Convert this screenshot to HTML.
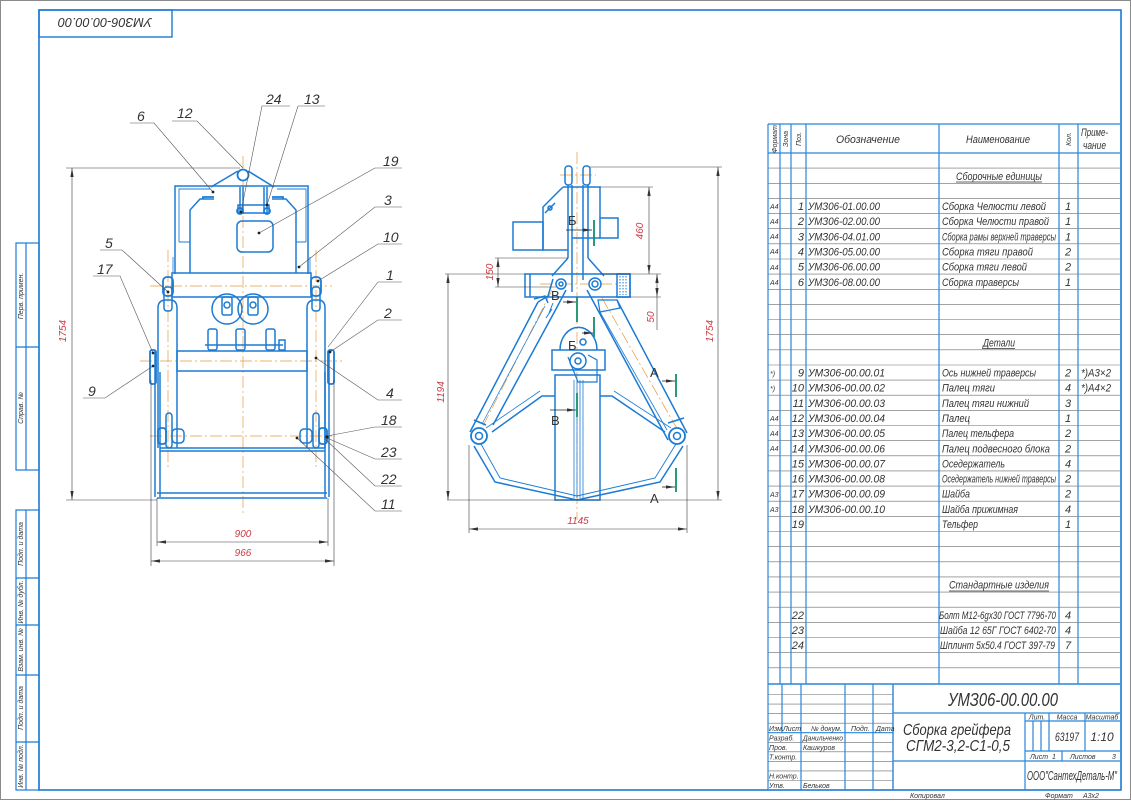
<!DOCTYPE html>
<html><head><meta charset="utf-8"><style>
html,body{margin:0;padding:0;background:#fff;overflow:hidden}
svg text{font-family:"Liberation Sans Narrow","Liberation Sans","DejaVu Sans",sans-serif;font-style:italic;fill:#333}
.r{fill:#cc3a44}
.s{font-size:7px}
.m{font-size:11px}
.n{font-size:14px}
.d{font-size:10px}
</style></head><body>
<svg width="1131" height="800" viewBox="0 0 1131 800" xmlns="http://www.w3.org/2000/svg">
<defs>
<marker id="ar" viewBox="0 0 10 10" refX="10" refY="5" markerWidth="9" markerHeight="9" markerUnits="userSpaceOnUse" orient="auto-start-reverse"><path d="M0,3.2 L10,5 L0,6.8z" fill="#333"/></marker>
</defs>
<rect x="0" y="0" width="1131" height="800" fill="#fff"/>
<rect x="0.5" y="0.5" width="1130" height="799" fill="none" stroke="#8a8a8a" stroke-width="1"/>
<rect x="39" y="10" width="1082" height="780" fill="none" stroke="#1b7bd4" stroke-width="1.6"/>
<rect x="39" y="10" width="133" height="27" fill="none" stroke="#1b7bd4" stroke-width="1.4"/>
<text transform="translate(105,18) rotate(180)" text-anchor="middle" font-size="13" textLength="94" lengthAdjust="spacingAndGlyphs">УМЗ06-00.00.00</text>

<g fill="none" stroke="#1b7bd4" stroke-width="1.2">
<rect x="16" y="243" width="23" height="227"/>
<path d="M26,243 V470 M16,347 H39"/>
<rect x="16" y="510" width="23" height="280"/>
<path d="M26,510 V790 M16,578 H39 M16,625 H39 M16,675 H39 M16,742 H39"/>
</g>
<g class="s">
<text transform="translate(23,296) rotate(-90)" text-anchor="middle">Перв. примен.</text>
<text transform="translate(23,408) rotate(-90)" text-anchor="middle">Справ. №</text>
<text transform="translate(23,544) rotate(-90)" text-anchor="middle">Подп. и дата</text>
<text transform="translate(23,602) rotate(-90)" text-anchor="middle">Инв. № дубл.</text>
<text transform="translate(23,650) rotate(-90)" text-anchor="middle">Взам. инв. №</text>
<text transform="translate(23,708) rotate(-90)" text-anchor="middle">Подп. и дата</text>
<text transform="translate(23,766) rotate(-90)" text-anchor="middle">Инв. № подл.</text>
</g>

<!-- LEFT VIEW -->
<g fill="none" stroke="#e59a3a" stroke-width="0.7" stroke-dasharray="12 3 2 3">
<path d="M243,156 V514"/>
<path d="M168,250 V470 M316,250 V470"/>
<path d="M150,286 H332 M140,361 H342 M150,436 H332"/>
</g>
<g fill="none" stroke="#1b7bd4" stroke-width="1.5">
<path d="M211,187 L238,171 M248,171 L274,187"/>
<circle cx="243" cy="175" r="5.5" stroke-width="1.8" fill="#fff"/>
<path d="M175,274 V186 H308 V274"/>
<path d="M179,242 V189 H210 M277,189 H306 V242" stroke-width="0.9"/>
<path d="M179,242 H190 M296,242 H306" stroke-width="0.9"/>
<path d="M190,273 V210 L200,199 H214 M272,199 H286 L296,210 V273"/>
<path d="M203,199 V197 H214 M272,197 H283 V199" stroke-width="1.8"/>
<path d="M173,257 V273 M310,257 V273" stroke-width="0.8"/>
<path d="M240,187 V214 M243,187 V214 M264,187 V214 M267,187 V214"/>
<rect x="238" y="205" width="31" height="8"/>
<circle cx="240" cy="211" r="3" stroke-width="1.8"/><circle cx="267" cy="211" r="3" stroke-width="1.8"/>
<rect x="237" y="221" width="36" height="31" rx="5"/>
<rect x="172" y="273" width="139" height="24"/>
<rect x="163" y="277" width="10" height="19" rx="4" stroke-width="1.8"/>
<rect x="311" y="277" width="10" height="19" rx="4" stroke-width="1.8"/>
<path d="M158,448 V308 Q158,300 166,300 H170 Q177,300 177,308 V448"/>
<path d="M307,448 V308 Q307,300 315,300 H318 Q325,300 325,308 V448"/>
<rect x="164" y="287" width="8" height="24" rx="3"/>
<rect x="312" y="287" width="8" height="24" rx="3"/>
<circle cx="227" cy="309" r="15"/><circle cx="253" cy="309" r="15"/>
<rect x="222" y="297" width="10" height="18" rx="2"/>
<rect x="248" y="297" width="10" height="18" rx="2"/>
<circle cx="227" cy="305" r="3"/><circle cx="253" cy="305" r="3"/>
<path d="M205,345 H283"/>
<rect x="208" y="329" width="9" height="21" rx="2"/>
<rect x="236" y="329" width="9" height="21" rx="2"/>
<rect x="266" y="329" width="9" height="21" rx="2"/>
<rect x="279" y="340" width="6" height="10"/>
<rect x="177" y="351" width="130" height="20"/>
<path d="M155,350 V497 M160,372 V497 M329,350 V497 M325,372 V497"/>
<path d="M160,448 H325 M160,451 H325" />
<path d="M157,493 H327 M157,498 H327"/>
<rect x="150" y="350" width="6" height="34" rx="2" stroke-width="1.8"/>
<rect x="328" y="350" width="6" height="34" rx="2" stroke-width="1.8"/>
<rect x="158" y="428" width="8" height="16" rx="3" stroke-width="1.8"/>
<rect x="166" y="413" width="6" height="35" rx="3"/>
<rect x="172" y="429" width="12" height="14" rx="4"/>
<rect x="300" y="429" width="12" height="14" rx="4"/>
<rect x="313" y="413" width="6" height="35" rx="3"/>
<rect x="319" y="428" width="8" height="16" rx="3" stroke-width="1.8"/>
</g>
<g fill="none" stroke="#3a3a3a" stroke-width="0.6">
<path d="M66,168 H240 M66,500 H157"/>
<path d="M72,168 V500" marker-start="url(#ar)" marker-end="url(#ar)"/>
<path d="M157,498 V546 M328,498 V546 M151,380 V566 M334,380 V566"/>
<path d="M157,542 H328" marker-start="url(#ar)" marker-end="url(#ar)"/>
<path d="M151,561 H334" marker-start="url(#ar)" marker-end="url(#ar)"/>
</g>
<text class="r d" transform="translate(66,331) rotate(-90)" text-anchor="middle">1754</text>
<text class="r d" x="243" y="537" text-anchor="middle">900</text>
<text class="r d" x="243" y="556" text-anchor="middle">966</text>
<g fill="none" stroke="#555" stroke-width="0.6">
<path d="M130,123 H154 L213,192"/>
<path d="M172,121 H197 L243,168"/>
<path d="M290,106 H262 L241,212"/>
<path d="M325,106 H298 L267,205"/>
<path d="M402,168 H375 L259,233"/>
<path d="M402,207 H375 L299,267"/>
<path d="M402,244 H378 L318,281"/>
<path d="M402,282 H378 L328,347"/>
<path d="M402,320 H378 L330,352"/>
<path d="M402,400 H378 L316,358"/>
<path d="M402,427 H375 L327,436"/>
<path d="M402,459 H375 L327,438"/>
<path d="M402,486 H375 L325,439"/>
<path d="M402,511 H375 L297,438"/>
<path d="M100,250 H122 L168,292"/>
<path d="M93,276 H120 L153,353"/>
<path d="M83,398 H105 L153,366"/>
</g>
<g fill="#222">
<circle cx="213" cy="192" r="1.4"/><circle cx="259" cy="233" r="1.4"/><circle cx="299" cy="267" r="1.4"/>
<circle cx="318" cy="281" r="1.4"/><circle cx="330" cy="352" r="1.4"/><circle cx="316" cy="358" r="1.4"/>
<circle cx="297" cy="438" r="1.4"/><circle cx="168" cy="292" r="1.4"/><circle cx="153" cy="353" r="1.4"/>
<circle cx="153" cy="366" r="1.4"/><circle cx="241" cy="212" r="1.4"/><circle cx="267" cy="205" r="1.4"/>
<circle cx="327" cy="437" r="1.6"/>
</g>
<g class="n">
<text x="137" y="121">6</text>
<text x="177" y="118">12</text>
<text x="266" y="104">24</text>
<text x="304" y="104">13</text>
<text x="383" y="166">19</text>
<text x="384" y="205">3</text>
<text x="383" y="242">10</text>
<text x="386" y="280">1</text>
<text x="384" y="318">2</text>
<text x="386" y="398">4</text>
<text x="381" y="425">18</text>
<text x="381" y="457">23</text>
<text x="381" y="484">22</text>
<text x="381" y="509">11</text>
<text x="105" y="248">5</text>
<text x="97" y="274">17</text>
<text x="88" y="396">9</text>
</g>

<!-- MIDDLE VIEW -->
<g fill="none" stroke="#e59a3a" stroke-width="0.7" stroke-dasharray="12 3 2 3">
<path d="M577,152 V520"/>
<path d="M560,175 H596"/>
<path d="M552,290 L481,430 M602,298 L679,432"/>
<path d="M540,284 H620"/>
</g>
<g fill="none" stroke="#1b7bd4" stroke-width="1.5">
<rect x="565" y="166" width="7" height="19" rx="3"/>
<rect x="583" y="166" width="7" height="19" rx="3"/>
<path d="M568,185 V258 M572,185 V292 M583,185 V280 M588,185 V258"/>
<path d="M563,187 H600 V218 M563,187 L543,207 V250 H568"/>
<path d="M545,213 L555,203"/><circle cx="550" cy="208" r="2"/>
<rect x="513" y="222" width="30" height="28"/>
<rect x="600" y="218" width="18" height="20"/>
<path d="M572,238 H600"/>
<rect x="525" y="274" width="105" height="23"/>
<path d="M530,274 V297"/>
<rect x="617" y="274" width="13" height="23"/>
<path d="M620,276 V295 M623,276 V295 M626,276 V295" stroke-width="1" stroke-dasharray="1.5 1.5"/>
<path d="M568,258 L552,276 M588,258 L604,276"/>
<circle cx="561" cy="284" r="5" fill="#fff"/><circle cx="561" cy="284" r="2"/>
<circle cx="595" cy="284" r="6" fill="#fff"/><circle cx="595" cy="284" r="3"/>
<path d="M538,302 L470,432 M556,309 L493,425"/>
<path d="M545,306 L482,424" stroke-width="0.7"/>
<path d="M538,302 L548,296 L553,279 M556,309 L566,290"/>
<path d="M534,299 L545,296 L548,303 M474,420 L486,425"/>
<path d="M587,290 L668,440 M617,300 L687,433"/>
<path d="M600,312 L667,430" stroke-width="0.8"/>
<path d="M598,300 L617,300 L620,308 L600,312 Z" stroke-width="1.2"/>
<path d="M668,423 L684,418"/>
<path d="M474,446 L495,482 L577,500 L660,482 L683,446"/>
<path d="M481,444 L500,478 L577,496 L655,478 L676,444" stroke-width="0.9"/>
<path d="M492,432 L542,396 H555 M600,396 H612 L665,432"/>
<path d="M486,428 L540,391 M671,428 L614,391" stroke-width="0.8"/>
<rect x="555" y="375" width="45" height="125"/>
<path d="M574,380 V498 M577,380 V498 M580,380 V498 M583,380 V498" stroke-width="0.8"/>
<rect x="552" y="350" width="53" height="20"/>
<path d="M560,350 A18,22 0 0 1 597,350"/>
<path d="M568,357 L578,382 H597 V360 L588,355" stroke-width="1.2"/>
<circle cx="578" cy="361" r="8" fill="#fff"/><circle cx="578" cy="361" r="3"/>
<circle cx="583" cy="342" r="3"/>
<circle cx="479" cy="436" r="8" fill="#fff" stroke-width="1.8"/><circle cx="479" cy="436" r="3.5"/>
<circle cx="677" cy="436" r="8" fill="#fff" stroke-width="1.8"/><circle cx="677" cy="436" r="3.5"/>
<path d="M549,313 L553,303 M546,318 L552,309" stroke-width="1"/>
</g>
<g fill="none" stroke="#13906a" stroke-width="1.8">
<path d="M594,220 V246 M577,297 V322 M594,317 V337 M577,393 V417 M676,374 V397 M676,468 V492"/>
</g>
<g fill="none" stroke="#222" stroke-width="0.8">
<path d="M566,230 H592" marker-end="url(#ar)"/>
<path d="M563,302 H576" marker-end="url(#ar)"/>
<path d="M582,333 H593" marker-end="url(#ar)"/>
<path d="M550,410 H576" marker-end="url(#ar)"/>
<path d="M662,381 H675" marker-end="url(#ar)"/>
<path d="M662,487 H675" marker-end="url(#ar)"/>
</g>
<g font-size="13">
<text x="568" y="225" style="font-style:normal">Б</text>
<text x="551" y="300" style="font-style:normal">В</text>
<text x="568" y="350" style="font-style:normal">Б</text>
<text x="551" y="425" style="font-style:normal">В</text>
<text x="650" y="377" style="font-style:normal">А</text>
<text x="650" y="503" style="font-style:normal">А</text>
</g>
<g fill="none" stroke="#3a3a3a" stroke-width="0.6">
<path d="M590,167 H722 M447,500 H722"/>
<path d="M718,167 V500" marker-start="url(#ar)" marker-end="url(#ar)"/>
<path d="M445,274 H525"/>
<path d="M448,274 V500" marker-start="url(#ar)" marker-end="url(#ar)"/>
<path d="M600,187 H653 M600,274 H661"/>
<path d="M649,187 V274" marker-start="url(#ar)" marker-end="url(#ar)"/>
<path d="M495,258 H568 M495,287 H556"/>
<path d="M498,258 V287" marker-start="url(#ar)" marker-end="url(#ar)"/>
<path d="M630,297 H661"/>
<path d="M657,274 V297" marker-start="url(#ar)" marker-end="url(#ar)"/>
<path d="M657,297 V330"/>
<path d="M469,445 V533 M687,445 V533"/>
<path d="M469,529 H687" marker-start="url(#ar)" marker-end="url(#ar)"/>
</g>
<text class="r d" transform="translate(713,331) rotate(-90)" text-anchor="middle">1754</text>
<text class="r d" transform="translate(444,392) rotate(-90)" text-anchor="middle">1194</text>
<text class="r d" transform="translate(643,231) rotate(-90)" text-anchor="middle">460</text>
<text class="r d" transform="translate(493,272) rotate(-90)" text-anchor="middle">150</text>
<text class="r d" transform="translate(654,317) rotate(-90)" text-anchor="middle">50</text>
<text class="r d" x="578" y="524" text-anchor="middle">1145</text>

<!-- SPEC TABLE -->
<g fill="none" stroke="#6b6b6b" stroke-width="0.6">
<path d="M768,168.1 H1120 M768,183.3 H1120 M768,198.4 H1120 M768,213.6 H1120 M768,228.7 H1120 M768,243.8 H1120 M768,259 H1120 M768,274.1 H1120 M768,289.3 H1120 M768,304.4 H1120 M768,319.5 H1120 M768,334.7 H1120 M768,349.8 H1120 M768,365 H1120 M768,380.1 H1120 M768,395.2 H1120 M768,410.4 H1120 M768,425.5 H1120 M768,440.7 H1120 M768,455.8 H1120 M768,470.9 H1120 M768,486.1 H1120 M768,501.2 H1120 M768,516.4 H1120 M768,531.5 H1120 M768,546.6 H1120 M768,561.8 H1120 M768,576.9 H1120 M768,592.1 H1120 M768,607.2 H1120 M768,622.3 H1120 M768,637.5 H1120 M768,652.6 H1120 M768,667.8 H1120"/>
</g>
<g fill="none" stroke="#2986dc" stroke-width="1.2">
<path d="M768,124 H1120 M768,153 H1120"/>
<path d="M768,124 V790 M780,124 V684 M791,124 V684 M806,124 V684 M939,124 V684 M1059,124 V684 M1078,124 V684"/>
<path d="M768,684 H1120" stroke-width="1.4"/>
</g>
<g class="s">
<text transform="translate(777,139) rotate(-90)" text-anchor="middle">Формат</text>
<text transform="translate(788,139) rotate(-90)" text-anchor="middle">Зона</text>
<text transform="translate(801,139) rotate(-90)" text-anchor="middle">Поз.</text>
<text transform="translate(1071,139) rotate(-90)" text-anchor="middle">Кол.</text>
</g>
<g class="m">
<text x="836" y="143" textLength="64" lengthAdjust="spacingAndGlyphs">Обозначение</text>
<text x="966" y="143" textLength="64" lengthAdjust="spacingAndGlyphs">Наименование</text>
<text x="1081" y="136" textLength="27" lengthAdjust="spacingAndGlyphs">Приме-</text>
<text x="1083" y="149" textLength="23" lengthAdjust="spacingAndGlyphs">чание</text>
<text x="956" y="179.8" textLength="86" lengthAdjust="spacingAndGlyphs">Сборочные единицы</text>
<text x="983" y="346.3" textLength="32" lengthAdjust="spacingAndGlyphs">Детали</text>
<text x="949" y="588.6" textLength="100" lengthAdjust="spacingAndGlyphs">Стандартные изделия</text>
</g>
<path d="M956,182 H1042 M983,348.5 H1015 M949,591 H1049" stroke="#333" stroke-width="0.7"/>
<g class="s">
<text x="770" y="209">А4</text><text x="770" y="224">А4</text><text x="770" y="239">А4</text><text x="770" y="254">А4</text><text x="770" y="270">А4</text><text x="770" y="285">А4</text>
<text x="770" y="376">*)</text><text x="770" y="391">*)</text>
<text x="770" y="421">А4</text><text x="770" y="436">А4</text><text x="770" y="451">А4</text>
<text x="770" y="497">А3</text><text x="770" y="512">А3</text>
</g>
<g class="m">
<text x="804" y="210.1" text-anchor="end">1</text><text x="808" y="210.1" textLength="72" lengthAdjust="spacingAndGlyphs">УМЗ06-01.00.00</text><text x="942" y="210.1" textLength="104" lengthAdjust="spacingAndGlyphs">Сборка Челюсти левой</text><text x="1068" y="210.1" text-anchor="middle">1</text>
<text x="804" y="225.2" text-anchor="end">2</text><text x="808" y="225.2" textLength="72" lengthAdjust="spacingAndGlyphs">УМЗ06-02.00.00</text><text x="942" y="225.2" textLength="107" lengthAdjust="spacingAndGlyphs">Сборка Челюсти правой</text><text x="1068" y="225.2" text-anchor="middle">1</text>
<text x="804" y="240.3" text-anchor="end">3</text><text x="808" y="240.3" textLength="72" lengthAdjust="spacingAndGlyphs">УМЗ06-04.01.00</text><text x="942" y="240.3" textLength="114" lengthAdjust="spacingAndGlyphs">Сборка рамы верхней траверсы</text><text x="1068" y="240.3" text-anchor="middle">1</text>
<text x="804" y="255.5" text-anchor="end">4</text><text x="808" y="255.5" textLength="72" lengthAdjust="spacingAndGlyphs">УМЗ06-05.00.00</text><text x="942" y="255.5" textLength="91" lengthAdjust="spacingAndGlyphs">Сборка тяги правой</text><text x="1068" y="255.5" text-anchor="middle">2</text>
<text x="804" y="270.6" text-anchor="end">5</text><text x="808" y="270.6" textLength="72" lengthAdjust="spacingAndGlyphs">УМЗ06-06.00.00</text><text x="942" y="270.6" textLength="85" lengthAdjust="spacingAndGlyphs">Сборка тяги левой</text><text x="1068" y="270.6" text-anchor="middle">2</text>
<text x="804" y="285.8" text-anchor="end">6</text><text x="808" y="285.8" textLength="72" lengthAdjust="spacingAndGlyphs">УМЗ06-08.00.00</text><text x="942" y="285.8" textLength="77" lengthAdjust="spacingAndGlyphs">Сборка траверсы</text><text x="1068" y="285.8" text-anchor="middle">1</text>
<text x="804" y="376.6" text-anchor="end">9</text><text x="808" y="376.6" textLength="77" lengthAdjust="spacingAndGlyphs">УМЗ06-00.00.01</text><text x="942" y="376.6" textLength="94" lengthAdjust="spacingAndGlyphs">Ось нижней траверсы</text><text x="1068" y="376.6" text-anchor="middle">2</text><text x="1081" y="376.6" textLength="30" lengthAdjust="spacingAndGlyphs">*)А3×2</text>
<text x="804" y="391.7" text-anchor="end">10</text><text x="808" y="391.7" textLength="77" lengthAdjust="spacingAndGlyphs">УМЗ06-00.00.02</text><text x="942" y="391.7" textLength="53" lengthAdjust="spacingAndGlyphs">Палец тяги</text><text x="1068" y="391.7" text-anchor="middle">4</text><text x="1081" y="391.7" textLength="30" lengthAdjust="spacingAndGlyphs">*)А4×2</text>
<text x="804" y="406.9" text-anchor="end">11</text><text x="808" y="406.9" textLength="77" lengthAdjust="spacingAndGlyphs">УМЗ06-00.00.03</text><text x="942" y="406.9" textLength="87" lengthAdjust="spacingAndGlyphs">Палец тяги нижний</text><text x="1068" y="406.9" text-anchor="middle">3</text>
<text x="804" y="422" text-anchor="end">12</text><text x="808" y="422" textLength="77" lengthAdjust="spacingAndGlyphs">УМЗ06-00.00.04</text><text x="942" y="422" textLength="28" lengthAdjust="spacingAndGlyphs">Палец</text><text x="1068" y="422" text-anchor="middle">1</text>
<text x="804" y="437.2" text-anchor="end">13</text><text x="808" y="437.2" textLength="77" lengthAdjust="spacingAndGlyphs">УМЗ06-00.00.05</text><text x="942" y="437.2" textLength="72" lengthAdjust="spacingAndGlyphs">Палец тельфера</text><text x="1068" y="437.2" text-anchor="middle">2</text>
<text x="804" y="452.3" text-anchor="end">14</text><text x="808" y="452.3" textLength="77" lengthAdjust="spacingAndGlyphs">УМЗ06-00.00.06</text><text x="942" y="452.3" textLength="108" lengthAdjust="spacingAndGlyphs">Палец подвесного блока</text><text x="1068" y="452.3" text-anchor="middle">2</text>
<text x="804" y="467.4" text-anchor="end">15</text><text x="808" y="467.4" textLength="77" lengthAdjust="spacingAndGlyphs">УМЗ06-00.00.07</text><text x="942" y="467.4" textLength="63" lengthAdjust="spacingAndGlyphs">Оседержатель</text><text x="1068" y="467.4" text-anchor="middle">4</text>
<text x="804" y="482.6" text-anchor="end">16</text><text x="808" y="482.6" textLength="77" lengthAdjust="spacingAndGlyphs">УМЗ06-00.00.08</text><text x="942" y="482.6" textLength="114" lengthAdjust="spacingAndGlyphs">Оседержатель нижней траверсы</text><text x="1068" y="482.6" text-anchor="middle">2</text>
<text x="804" y="497.7" text-anchor="end">17</text><text x="808" y="497.7" textLength="77" lengthAdjust="spacingAndGlyphs">УМЗ06-00.00.09</text><text x="942" y="497.7" textLength="28" lengthAdjust="spacingAndGlyphs">Шайба</text><text x="1068" y="497.7" text-anchor="middle">2</text>
<text x="804" y="512.9" text-anchor="end">18</text><text x="808" y="512.9" textLength="77" lengthAdjust="spacingAndGlyphs">УМЗ06-00.00.10</text><text x="942" y="512.9" textLength="76" lengthAdjust="spacingAndGlyphs">Шайба прижимная</text><text x="1068" y="512.9" text-anchor="middle">4</text>
<text x="804" y="528" text-anchor="end">19</text><text x="942" y="528" textLength="36" lengthAdjust="spacingAndGlyphs">Тельфер</text><text x="1068" y="528" text-anchor="middle">1</text>
<text x="804" y="618.8" text-anchor="end">22</text><text x="939" y="618.8" textLength="117" lengthAdjust="spacingAndGlyphs">Болт М12-6gх30 ГОСТ 7796-70</text><text x="1068" y="618.8" text-anchor="middle">4</text>
<text x="804" y="634" text-anchor="end">23</text><text x="940" y="634" textLength="116" lengthAdjust="spacingAndGlyphs">Шайба 12 65Г ГОСТ 6402-70</text><text x="1068" y="634" text-anchor="middle">4</text>
<text x="804" y="649.1" text-anchor="end">24</text><text x="940" y="649.1" textLength="115" lengthAdjust="spacingAndGlyphs">Шплинт 5х50.4 ГОСТ 397-79</text><text x="1068" y="649.1" text-anchor="middle">7</text>
</g>

<!-- TITLE BLOCK -->
<g fill="none" stroke="#6b6b6b" stroke-width="0.6">
<path d="M768,694.5 H893 M768,704.1 H893 M768,713.6 H893 M768,723.2 H893 M768,742.3 H893 M768,751.8 H893 M768,761.4 H893 M768,770.9 H893 M768,780.5 H893"/>
</g>
<g fill="none" stroke="#2986dc" stroke-width="1.2">
<path d="M768,732.7 H893"/>
<path d="M782,684 V733 M801,684 V790 M845,684 V790 M873,684 V790"/>
<path d="M893,684 V790" stroke-width="1.4"/>
<path d="M893,713 H1120 M893,761 H1120 M1025,713 V790 M1025,721 H1120 M1025,751 H1120"/>
<path d="M1033,721 V751 M1041,721 V751 M1049,713 V751 M1085,713 V751 M1062,751 V761"/>
</g>
<g class="s">
<text x="769" y="731">Изм.</text><text x="783" y="731">Лист</text><text x="811" y="731">№ докум.</text><text x="851" y="731">Подп.</text><text x="876" y="731">Дата</text>
<text x="769" y="740.5">Разраб.</text><text x="803" y="740.5" textLength="40" lengthAdjust="spacingAndGlyphs">Данильченко</text>
<text x="769" y="750">Пров.</text><text x="803" y="750">Кашкуров</text>
<text x="769" y="759.5">Т.контр.</text>
<text x="769" y="778.6">Н.контр.</text>
<text x="769" y="788">Утв.</text><text x="803" y="788">Бельков</text>
<text x="1037" y="719.5" text-anchor="middle">Лит.</text>
<text x="1067" y="719.5" text-anchor="middle">Масса</text>
<text x="1102" y="719.5" text-anchor="middle">Масштаб</text>
<text x="1030" y="759">Лист</text><text x="1052" y="759">1</text>
<text x="1070" y="759">Листов</text><text x="1112" y="759">3</text>
<text x="910" y="798">Копировал</text>
<text x="1045" y="798">Формат</text><text x="1083" y="798">А3х2</text>
</g>
<text x="1067" y="741" font-size="12" text-anchor="middle" textLength="24" lengthAdjust="spacingAndGlyphs">63197</text>
<text x="1102" y="741" font-size="12" text-anchor="middle">1:10</text>
<text x="1003" y="706" font-size="18" text-anchor="middle" textLength="110" lengthAdjust="spacingAndGlyphs">УМЗ06-00.00.00</text>
<text x="903" y="735" font-size="16" textLength="108" lengthAdjust="spacingAndGlyphs">Сборка грейфера</text>
<text x="906" y="751" font-size="16" textLength="104" lengthAdjust="spacingAndGlyphs">СГМ2-3,2-С1-0,5</text>
<text x="1027" y="780" font-size="13" textLength="90" lengthAdjust="spacingAndGlyphs">ООО"СантехДеталь-М"</text>
</svg>
</body></html>
